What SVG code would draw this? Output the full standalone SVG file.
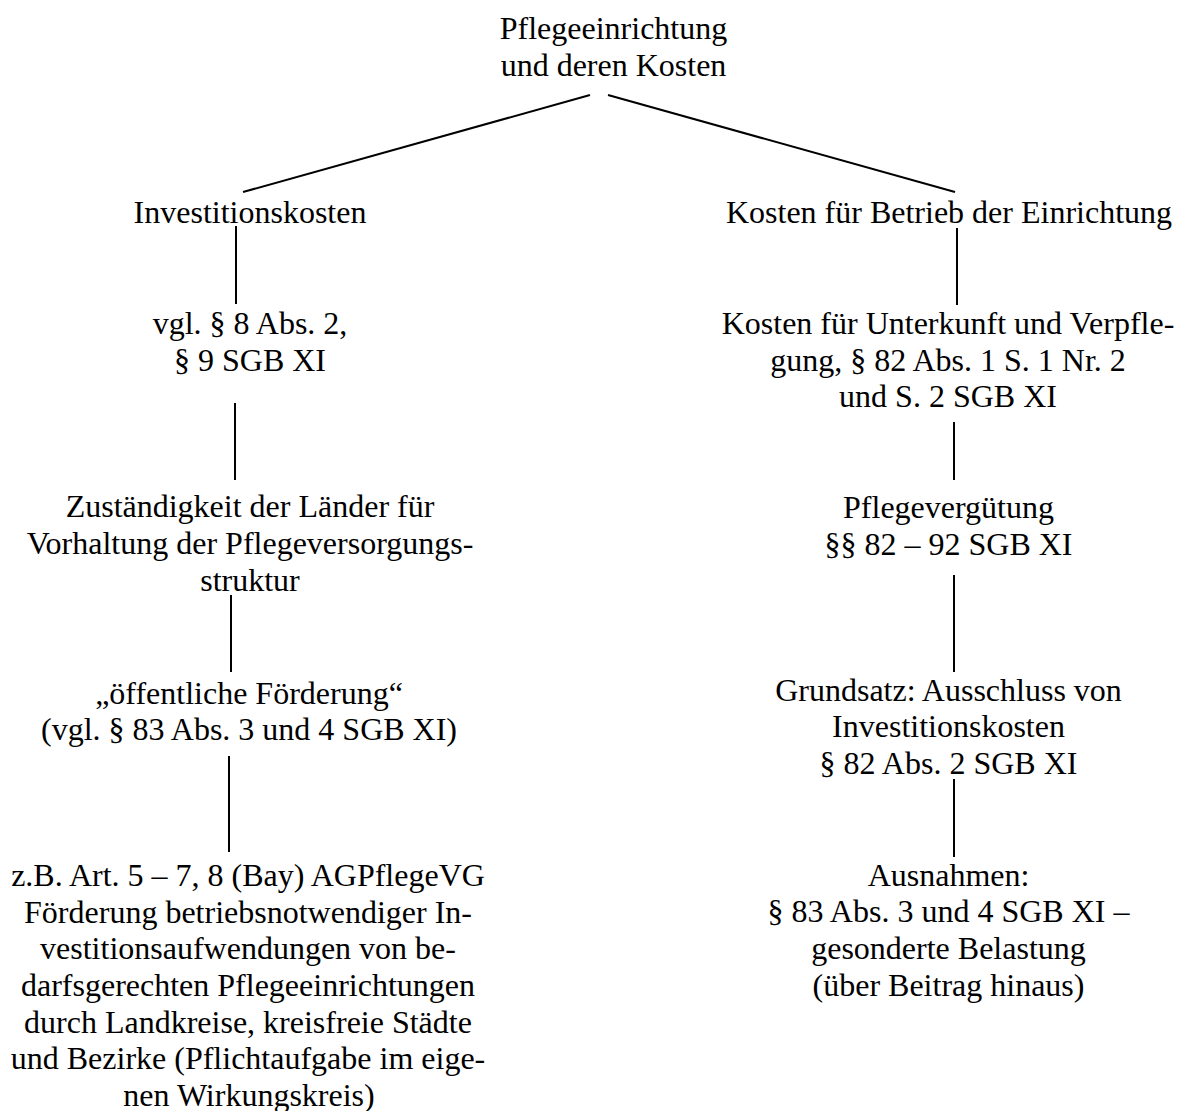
<svg xmlns="http://www.w3.org/2000/svg" width="1179" height="1111" viewBox="0 0 1179 1111">
  <style>
    .lbl { font-family: "Liberation Serif", "Times New Roman", serif; font-size: 32px; fill: #000; text-anchor: middle; }
    .edge { stroke: #000; stroke-width: 2; fill: none; }
  </style>
  <rect width="1179" height="1111" fill="#fff"/>

  <!-- connectors -->
  <g id="connectors">
    <line class="edge" x1="590" y1="95" x2="243" y2="192"/>
    <line class="edge" x1="608" y1="95" x2="955" y2="192"/>
    <line class="edge" x1="236" y1="226" x2="236" y2="304"/>
    <line class="edge" x1="235" y1="403" x2="235" y2="480"/>
    <line class="edge" x1="231" y1="595" x2="231" y2="672"/>
    <line class="edge" x1="229" y1="756" x2="229" y2="852"/>
    <line class="edge" x1="957" y1="228" x2="957" y2="305"/>
    <line class="edge" x1="954" y1="422" x2="954" y2="480"/>
    <line class="edge" x1="954" y1="575" x2="954" y2="672"/>
    <line class="edge" x1="954" y1="779" x2="954" y2="857"/>
  </g>

  <!-- root -->
  <g id="root">
    <text class="lbl" x="613.5" y="39.3">Pflegeeinrichtung</text>
    <text class="lbl" x="613.5" y="76">und deren Kosten</text>
  </g>

  <!-- left branch -->
  <g id="investitionskosten">
    <text class="lbl" x="250" y="222.7">Investitionskosten</text>
  </g>
  <g id="vgl-8-9">
    <text class="lbl" x="250" y="334">vgl. § 8 Abs. 2,</text>
    <text class="lbl" x="250" y="370.7">§ 9 SGB XI</text>
  </g>
  <g id="zustaendigkeit">
    <text class="lbl" x="250" y="517.3">Zuständigkeit der Länder für</text>
    <text class="lbl" x="250" y="554">Vorhaltung der Pflegeversorgungs-</text>
    <text class="lbl" x="250" y="590.7">struktur</text>
  </g>
  <g id="foerderung">
    <text class="lbl" x="249" y="703.5">„öffentliche Förderung“</text>
    <text class="lbl" x="249" y="740.2">(vgl. § 83 Abs. 3 und 4 SGB XI)</text>
  </g>
  <g id="agpflegevg">
    <text class="lbl" x="248" y="886">z.B. Art. 5 – 7, 8 (Bay) AGPflegeVG</text>
    <text class="lbl" x="248" y="922.7">Förderung betriebsnotwendiger In-</text>
    <text class="lbl" x="248" y="959.4">vestitionsaufwendungen von be-</text>
    <text class="lbl" x="248" y="996">darfsgerechten Pflegeeinrichtungen</text>
    <text class="lbl" x="248" y="1032.7">durch Landkreise, kreisfreie Städte</text>
    <text class="lbl" x="248" y="1069.4">und Bezirke (Pflichtaufgabe im eige-</text>
    <text class="lbl" x="249" y="1105.5">nen Wirkungskreis)</text>
  </g>

  <!-- right branch -->
  <g id="betriebskosten">
    <text class="lbl" x="949" y="222.7">Kosten für Betrieb der Einrichtung</text>
  </g>
  <g id="unterkunft">
    <text class="lbl" x="948" y="334">Kosten für Unterkunft und Verpfle-</text>
    <text class="lbl" x="948" y="370.7">gung, § 82 Abs. 1 S. 1 Nr. 2</text>
    <text class="lbl" x="948" y="407.4">und S. 2 SGB XI</text>
  </g>
  <g id="pflegeverguetung">
    <text class="lbl" x="948.5" y="518">Pflegevergütung</text>
    <text class="lbl" x="948.5" y="554.7">§§ 82 – 92 SGB XI</text>
  </g>
  <g id="grundsatz">
    <text class="lbl" x="948.5" y="700.5">Grundsatz: Ausschluss von</text>
    <text class="lbl" x="948.5" y="737.2">Investitionskosten</text>
    <text class="lbl" x="948.5" y="773.9">§ 82 Abs. 2 SGB XI</text>
  </g>
  <g id="ausnahmen">
    <text class="lbl" x="948.5" y="885.5">Ausnahmen:</text>
    <text class="lbl" x="948.5" y="922.2">§ 83 Abs. 3 und 4 SGB XI –</text>
    <text class="lbl" x="948.5" y="958.9">gesonderte Belastung</text>
    <text class="lbl" x="948.5" y="995.5">(über Beitrag hinaus)</text>
  </g>
</svg>
